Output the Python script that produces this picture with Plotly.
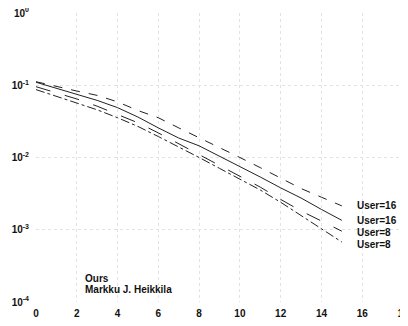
import plotly.graph_objects as go

snr = list(range(0, 16))
user16_a = [0.112, 0.0955, 0.0832, 0.0724, 0.0589, 0.0447, 0.0355, 0.0257, 0.0186, 0.0136,
            0.0100, 0.00724, 0.00525, 0.00372, 0.00282, 0.00214]
user16_b = [0.110, 0.0912, 0.0759, 0.0617, 0.0490, 0.0363, 0.0257, 0.0186, 0.0145, 0.0105,
            0.00741, 0.00537, 0.00380, 0.00275, 0.00191, 0.00135]
user8_a = [0.0955, 0.0794, 0.0646, 0.0513, 0.0398, 0.0302, 0.0219, 0.0155, 0.0110, 0.00776,
           0.00550, 0.00389, 0.00263, 0.00182, 0.00132, 0.000955]
user8_b = [0.0871, 0.0708, 0.0575, 0.0457, 0.0355, 0.0269, 0.0195, 0.0141, 0.0100, 0.00708,
           0.00501, 0.00355, 0.00240, 0.00158, 0.00102, 0.000676]

series_names = ["User=16", "User=16", "User=8", "User=8"]
x_ticks = [0, 2, 4, 6, 8, 10, 12, 14, 16, 18]
y_tickvals = [1, 0.1, 0.01, 0.001, 0.0001]
y_ticktext = ["10<sup>0</sup>", "10<sup>-1</sup>", "10<sup>-2</sup>", "10<sup>-3</sup>", "10<sup>-4</sup>"]
note_lines = ["Ours", "Markku J. Heikkila"]

dashes = ["dash", "solid", "longdash", "dashdot"]
fig = go.Figure()
for ys, name, d in zip([user16_a, user16_b, user8_a, user8_b], series_names, dashes):
    fig.add_trace(go.Scatter(x=snr, y=ys, mode="lines", name=name,
                             line=dict(color="#222222", width=1, dash=d)))

font_bold = dict(family="Liberation Sans", size=10, color="#111111", weight="bold")
tick_font = dict(family="Liberation Sans", size=10, color="#111111", weight="bold")

# page body has an 8px margin, so the figure is sized/offset to compensate
fig.update_layout(
    width=400, height=318,
    margin=dict(l=28, r=5, t=5, b=24, autoexpand=False),
    paper_bgcolor="white", plot_bgcolor="white",
    showlegend=False,
    xaxis=dict(range=[0, 18], tickvals=x_ticks, showline=False, zeroline=False,
               automargin=False, ticklabeloverflow="allow",
               showgrid=True, gridcolor="#e2e2e2", griddash="dot", gridwidth=1,
               tickfont=tick_font, ticks="", ticklabelstandoff=4),
    yaxis=dict(type="log", range=[-4, 0], tickvals=y_tickvals, ticktext=y_ticktext,
               showline=False, zeroline=False, automargin=False, ticklabeloverflow="allow",
               showgrid=True, gridcolor="#e2e2e2", griddash="dot", gridwidth=1,
               tickfont=tick_font, ticks="", ticklabelstandoff=6),
)

label_y = [0.333, 0.281, 0.239, 0.198]
for name, yp in zip(series_names, label_y):
    fig.add_annotation(xref="paper", yref="paper", x=0.87, y=yp, text=name,
                       showarrow=False, xanchor="left", yanchor="middle", font=font_bold)
for txt, yp in zip(note_lines, [0.083, 0.043]):
    fig.add_annotation(xref="paper", yref="paper", x=0.127, y=yp, text=txt,
                       showarrow=False, xanchor="left", yanchor="middle", font=font_bold)

fig.write_html("out.html")
